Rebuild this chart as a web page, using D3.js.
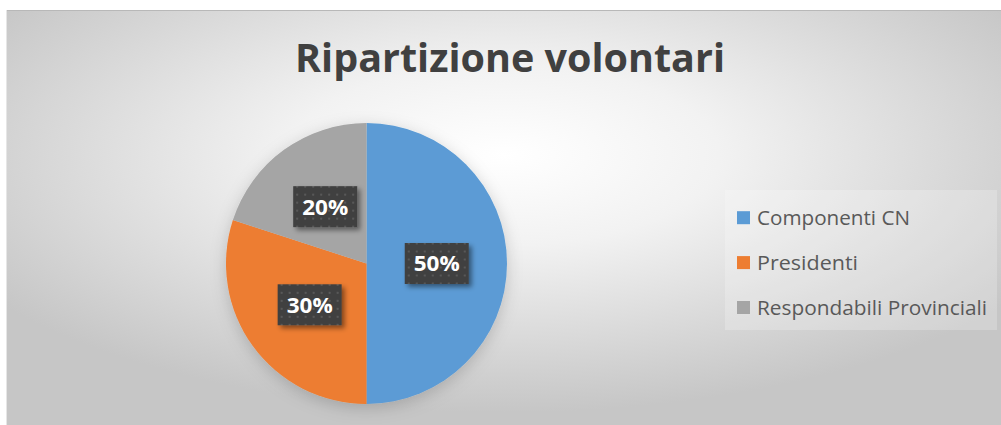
<!DOCTYPE html>
<html>
<head>
<meta charset="utf-8">
<script src="https://cdn.jsdelivr.net/npm/d3@7"></script>
<style>
  html, body { margin: 0; padding: 0; background: #fff; }
  svg { display: block; }
</style>
</head>
<body>
<div id="chart"></div>
<script>
// data
const categories = ["Componenti CN", "Presidenti", "Respondabili Provinciali"];
const values = [50, 30, 20];
const colors = ["#5B9BD5", "#ED7D31", "#A5A5A5"];
const chartTitle = "Ripartizione volontari";

const width = 1001, height = 425;

const svg = d3.select("#chart").append("svg")
    .attr("width", width)
    .attr("height", height);

const defs = svg.append("defs");

// background gradient, white in the middle and grey at the edges
const bg = defs.append("radialGradient")
    .attr("id", "bg")
    .attr("cx", "0.5").attr("cy", "0.35")
    .attr("r", "0.62");
bg.append("stop").attr("offset", "0%").attr("stop-color", "#ffffff");
bg.append("stop").attr("offset", "35%").attr("stop-color", "#f2f2f2");
bg.append("stop").attr("offset", "100%").attr("stop-color", "#c6c6c6");

// dotted pattern for the label boxes
const pat = defs.append("pattern")
    .attr("id", "dots")
    .attr("width", 8).attr("height", 8)
    .attr("patternUnits", "userSpaceOnUse");
pat.append("rect").attr("width", 8).attr("height", 8).attr("fill", "#404040");
pat.append("rect").attr("x", 3).attr("y", 3).attr("width", 2).attr("height", 2).attr("fill", "#595959");

const boxShadow = defs.append("filter").attr("id", "boxShadow")
    .attr("x", "-30%").attr("y", "-30%").attr("width", "160%").attr("height", "160%");
boxShadow.append("feDropShadow")
    .attr("dx", 3).attr("dy", 3).attr("stdDeviation", 2.5)
    .attr("flood-color", "#000").attr("flood-opacity", 0.45);

const pieShadow = defs.append("filter").attr("id", "pieShadow")
    .attr("x", "-20%").attr("y", "-20%").attr("width", "140%").attr("height", "140%");
pieShadow.append("feDropShadow")
    .attr("dx", 0).attr("dy", 4).attr("stdDeviation", 8)
    .attr("flood-color", "#000").attr("flood-opacity", 0.18);

svg.append("rect")
    .attr("x", 6).attr("y", 10)
    .attr("width", width - 6).attr("height", height - 10)
    .attr("fill", "url(#bg)");
svg.append("line")
    .attr("x1", 6).attr("x2", width).attr("y1", 10.5).attr("y2", 10.5)
    .attr("stroke", "#b8b8b8");
svg.append("line")
    .attr("x1", 6.5).attr("x2", 6.5).attr("y1", 10).attr("y2", height)
    .attr("stroke", "#e6e6e6");

// title
const title = svg.append("text")
    .attr("x", 510).attr("y", 72)
    .attr("text-anchor", "middle")
    .attr("font-family", "'Open Sans', sans-serif")
    .attr("font-weight", "bold")
    .attr("font-size", 39)
    .attr("fill", "#404040")
    .text(chartTitle);
title.attr("textLength", 430).attr("lengthAdjust", "spacingAndGlyphs");

// pie
const cx = 366.5, cy = 263.5, radius = 140.5;

const pie = d3.pie().sort(null).value(d => d);
const arc = d3.arc().innerRadius(0).outerRadius(radius);
const arcs = pie(values);

const g = svg.append("g").attr("transform", `translate(${cx},${cy})`);

g.append("g").attr("filter", "url(#pieShadow)")
    .selectAll("path")
    .data(arcs)
    .join("path")
    .attr("d", arc)
    .attr("fill", (d, i) => colors[i]);

const total = d3.sum(values);
const fmt = d3.format(".0%");

const labels = g.selectAll("g.lbl")
    .data(arcs)
    .join("g")
    .attr("class", "lbl")
    .attr("transform", d => {
        const c = arc.centroid(d);
        return `translate(${c[0]},${c[1]})`;
    });

labels.append("rect")
    .attr("x", -32).attr("y", -20.5)
    .attr("width", 64).attr("height", 41)
    .attr("fill", "url(#dots)")
    .attr("filter", "url(#boxShadow)");

labels.append("text")
    .attr("text-anchor", "middle")
    .attr("dy", "0.36em")
    .attr("font-family", "'Open Sans', sans-serif")
    .attr("font-weight", "bold")
    .attr("font-size", 22)
    .attr("fill", "#fff")
    .attr("textLength", 46)
    .attr("lengthAdjust", "spacingAndGlyphs")
    .text(d => fmt(d.data / total));

// legend
svg.append("rect")
    .attr("x", 725).attr("y", 190)
    .attr("width", 272).attr("height", 140)
    .attr("fill", "#ffffff").attr("fill-opacity", 0.22);

const legendY = d3.scalePoint().domain(categories).range([217.7, 307.5]);

const legend = svg.append("g")
    .selectAll("g")
    .data(categories)
    .join("g")
    .attr("transform", d => `translate(737,${legendY(d)})`);

legend.append("rect")
    .attr("x", 0).attr("y", -6.5)
    .attr("width", 13).attr("height", 13)
    .attr("fill", (d, i) => colors[i]);

legend.append("text")
    .attr("x", 20)
    .attr("dy", "0.36em")
    .attr("font-family", "'Open Sans', sans-serif")
    .attr("font-size", 19.5)
    .attr("fill", "#595959")
    .text(d => d)
    .each(function(d, i) {
        // Calibri is narrower than Open Sans, squeeze to the measured widths
        const target = [153, 101, 230][i];
        d3.select(this).attr("textLength", target).attr("lengthAdjust", "spacingAndGlyphs");
    });
</script>
</body>
</html>
